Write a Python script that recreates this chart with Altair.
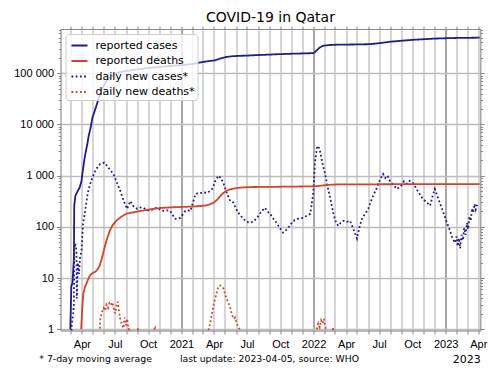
import altair as alt
import pandas as pd

# ---------------- data ----------------
cum_cases_dates = ["2020-02-29", "2020-03-03", "2020-03-06", "2020-03-10", "2020-03-11", "2020-03-14",
                   "2020-03-18", "2020-03-22", "2020-03-26", "2020-03-31", "2020-04-04", "2020-04-08",
                   "2020-04-12", "2020-04-16", "2020-04-20", "2020-04-25", "2020-04-30", "2020-05-07",
                   "2020-05-15", "2020-05-22", "2020-05-31", "2020-06-10", "2020-06-20", "2020-06-30",
                   "2020-07-15", "2020-08-01", "2020-09-01", "2020-10-01", "2020-11-01", "2020-12-01",
                   "2021-01-01", "2021-02-01", "2021-03-01", "2021-03-20", "2021-04-05", "2021-04-20",
                   "2021-05-05", "2021-05-20", "2021-06-10", "2021-07-01", "2021-08-01", "2021-09-01",
                   "2021-10-01", "2021-11-01", "2021-12-01", "2021-12-25", "2022-01-01", "2022-01-06",
                   "2022-01-12", "2022-01-18", "2022-01-25", "2022-02-01", "2022-02-15", "2022-03-01",
                   "2022-04-01", "2022-05-01", "2022-06-01", "2022-06-20", "2022-07-10", "2022-08-01",
                   "2022-09-01", "2022-10-01", "2022-11-01", "2022-12-01", "2023-01-01", "2023-02-01",
                   "2023-03-01", "2023-04-05"]
cum_cases_values = [1, 7, 8, 24, 262, 401, 460, 526, 590, 781, 1325, 2057,
                    2979, 4103, 6015, 8525, 13409, 18890, 28272, 40481, 56910, 73595, 85462, 96088,
                    105477, 111107, 119206, 126887, 133323, 139034, 144042, 152042, 166320, 174000,
                    180000, 196000, 208000, 215000, 219000, 222000, 227000, 232000, 237000, 241000,
                    244000, 247000, 250000, 262000, 290000, 318000, 338000, 348000, 357000, 361000,
                    364000, 366000, 370000, 379000, 394000, 414000, 432000, 450000, 463000, 476000,
                    484000, 490000, 493000, 496000]

cum_deaths_dates = ["2020-03-30", "2020-04-02", "2020-04-05", "2020-04-10", "2020-04-17", "2020-04-24",
                    "2020-05-01", "2020-05-08", "2020-05-15", "2020-05-21", "2020-05-26", "2020-05-31",
                    "2020-06-05", "2020-06-10", "2020-06-18", "2020-06-25", "2020-07-07", "2020-07-20",
                    "2020-08-03", "2020-08-20", "2020-09-09", "2020-10-10", "2020-11-03", "2020-12-01",
                    "2020-12-31", "2021-02-01", "2021-02-21", "2021-03-10", "2021-03-20", "2021-04-01",
                    "2021-04-10", "2021-04-17", "2021-04-25", "2021-05-05", "2021-05-15", "2021-05-25",
                    "2021-06-02", "2021-06-20", "2021-07-10", "2021-09-01", "2021-12-31", "2022-01-20",
                    "2022-02-05", "2022-02-20", "2022-03-10", "2022-05-01", "2022-09-01", "2023-01-01",
                    "2023-04-05"]
cum_deaths_values = [1, 2.5, 5, 6.8, 9, 11.5, 12.5, 13.3, 15, 18, 24, 33,
                     45, 60, 87, 108, 136, 160, 182, 192, 204, 222, 234, 240,
                     245, 250, 255, 262, 275, 300, 340, 390, 450, 505, 540, 560,
                     572, 590, 600, 605, 619, 635, 655, 668, 675, 678, 682, 685,
                     686]

daily_cases_dates = ["2020-03-01", "2020-03-04", "2020-03-08", "2020-03-10", "2020-03-11", "2020-03-14",
                     "2020-03-17", "2020-03-18", "2020-03-21", "2020-03-24", "2020-03-27", "2020-03-31",
                     "2020-04-04", "2020-04-10", "2020-04-17", "2020-04-24", "2020-05-01", "2020-05-08",
                     "2020-05-15", "2020-05-22", "2020-06-02", "2020-06-10", "2020-06-18", "2020-06-27",
                     "2020-07-06", "2020-07-16", "2020-07-25", "2020-08-04", "2020-08-13", "2020-08-22",
                     "2020-09-01", "2020-09-10", "2020-09-18", "2020-09-27", "2020-10-07", "2020-10-17",
                     "2020-10-27", "2020-11-04", "2020-11-12", "2020-11-21", "2020-12-01", "2020-12-08",
                     "2020-12-15", "2020-12-22", "2020-12-29", "2021-01-05", "2021-01-12", "2021-01-19",
                     "2021-01-26", "2021-02-02", "2021-02-09", "2021-02-16", "2021-02-23", "2021-03-05",
                     "2021-03-14", "2021-03-20", "2021-03-27", "2021-04-05", "2021-04-13", "2021-04-20",
                     "2021-04-27", "2021-05-07", "2021-05-16", "2021-05-24", "2021-06-04", "2021-06-12",
                     "2021-06-21", "2021-07-01", "2021-07-10", "2021-07-20", "2021-07-29", "2021-08-10",
                     "2021-08-20", "2021-08-27", "2021-09-03", "2021-09-10", "2021-09-17", "2021-09-30",
                     "2021-10-09", "2021-10-16", "2021-10-23", "2021-11-06", "2021-11-20", "2021-12-03",
                     "2021-12-13", "2021-12-23", "2021-12-31", "2022-01-05", "2022-01-11", "2022-01-16",
                     "2022-01-19", "2022-01-26", "2022-02-02", "2022-02-09", "2022-02-16", "2022-02-25",
                     "2022-03-03", "2022-03-10", "2022-03-17", "2022-03-24", "2022-04-03", "2022-04-12",
                     "2022-04-20", "2022-05-01", "2022-05-08", "2022-05-15", "2022-06-01", "2022-06-13",
                     "2022-06-25", "2022-07-04", "2022-07-12", "2022-07-18", "2022-07-24", "2022-07-31",
                     "2022-08-10", "2022-08-20", "2022-09-01", "2022-09-08", "2022-09-16", "2022-09-23",
                     "2022-10-03", "2022-10-16", "2022-10-30", "2022-11-10", "2022-11-19", "2022-11-26",
                     "2022-12-02", "2022-12-12", "2022-12-22", "2023-01-03", "2023-01-13", "2023-01-20",
                     "2023-01-27", "2023-01-31", "2023-02-03", "2023-02-07", "2023-02-10", "2023-02-14",
                     "2023-02-18", "2023-02-21", "2023-02-25", "2023-03-01", "2023-03-04", "2023-03-08",
                     "2023-03-11", "2023-03-15", "2023-03-18", "2023-03-22", "2023-03-25", "2023-03-29"]
daily_cases_values = [0.3, 1.2, 2.0, 3.0, 37, 48,
                      35, 4, 20, 12, 25, 34,
                      110, 205, 450, 690, 950, 1240,
                      1500, 1700, 1800, 1550, 1300, 1080,
                      750, 510, 330, 225, 320, 250,
                      225, 240, 236, 215, 205, 230,
                      236, 215, 205, 210, 205, 170,
                      144, 146, 150, 175, 205, 210,
                      205, 300, 440, 460, 460, 470,
                      460, 500, 550, 800, 1000, 900,
                      720, 450, 320, 300, 205, 170,
                      144, 125, 120, 130, 150, 200,
                      236, 200, 180, 150, 131, 95,
                      77, 85, 96, 131, 145, 150,
                      165, 180, 440, 1800, 3800, 3500,
                      3000, 1700, 1080, 600, 370, 180,
                      130, 105, 120, 131, 125, 131,
                      95, 59, 100, 144, 225, 380,
                      580, 850, 1080, 900, 1000, 790,
                      650, 550, 650, 780, 700, 790,
                      720, 500, 350, 300, 260, 400,
                      550, 350, 225, 130, 84, 60,
                      49, 65, 42, 60, 38, 70,
                      55, 95, 70, 120, 90, 160,
                      130, 230, 190, 280, 220, 270]

daily_deaths_dates = ["2020-03-28", "2020-05-18", "2020-05-22", "2020-05-27", "2020-05-31", "2020-06-04",
                      "2020-06-08", "2020-06-12", "2020-06-16", "2020-06-20", "2020-06-24", "2020-06-28",
                      "2020-07-02", "2020-07-06", "2020-07-09", "2020-07-13", "2020-07-16", "2020-07-20",
                      "2020-07-25", "2020-07-28", "2020-08-01", "2020-08-04", "2020-08-08", "2020-08-12",
                      "2020-08-16", "2020-08-25", "2020-09-03", "2020-09-08", "2020-10-20", "2020-10-24",
                      "2021-03-10", "2021-03-16", "2021-03-23", "2021-03-30", "2021-04-06", "2021-04-13",
                      "2021-04-18", "2021-04-22", "2021-04-27", "2021-05-03", "2021-05-09", "2021-05-15",
                      "2021-05-20", "2021-05-25", "2021-05-29", "2021-06-03", "2021-06-08", "2021-06-12",
                      "2021-06-20", "2022-01-05", "2022-01-10", "2022-01-14", "2022-01-18", "2022-01-22",
                      "2022-01-26", "2022-01-30", "2022-02-03", "2022-02-07", "2022-02-20", "2022-02-24",
                      "2022-02-28", "2023-04-05"]
daily_deaths_values = [0.3, 0.5, 1.6, 2.2, 2.6, 2.3,
                       3.0, 2.6, 3.2, 2.9, 3.35, 2.6,
                       2.05, 3.0, 3.45, 2.2, 1.6, 1.3,
                       1.05, 1.7, 1.2, 1.6, 1.0, 1.05,
                       0.6, 0.4, 1.05, 0.4, 1.05, 0.4,
                       0.4, 0.9, 1.5, 2.8, 4.5, 6.8,
                       7.2, 6.6, 6.3, 4.5, 3.5, 2.8,
                       2.0, 1.6, 1.7, 1.3, 1.1, 0.95,
                       0.5, 0.5, 1.0, 1.3, 1.1, 1.5,
                       1.3, 1.6, 1.1, 0.6, 0.6, 1.1,
                       0.5, 0.3]

series_names = ["reported cases", "reported deaths", "daily new cases*", "daily new deaths*"]
series_colors = ["#1f1d8a", "#d5412c", "#1f1d8a", "#d5412c"]
series_dashes = [[1, 0], [1, 0], [1.8, 2.4], [1.8, 2.4]]

x_tick_dates = [(y, m) for y in (2020, 2021, 2022, 2023) for m in range(1, 13)
                if (2020, 3) <= (y, m) <= (2023, 4)]
y_ticks = [m * 10 ** e for e in range(6) for m in range(1, 10) if m * 10 ** e <= 700000]

title_text = "COVID-19 in Qatar"
note_left = "* 7-day moving average"
note_right = "last update: 2023-04-05, source: WHO"
year_note = "2023"

# ---------------- frames ----------------
def frame(dates, values, name):
    return pd.DataFrame({"date": dates, "value": values, "series": name})

df_cum = pd.concat([frame(cum_cases_dates, cum_cases_values, series_names[0]),
                    frame(cum_deaths_dates, cum_deaths_values, series_names[1])])
df_daily = pd.concat([frame(daily_cases_dates, daily_cases_values, series_names[2]),
                      frame(daily_deaths_dates, daily_deaths_values, series_names[3])])

FONT = "DejaVu Sans"
W, H = 419.8, 301.5

x_scale = alt.Scale(type="utc",
                    domain=[alt.DateTime(year=2020, month=2, date=2, utc=True),
                            alt.DateTime(year=2023, month=4, date=6, hours=16, utc=True)],
                    nice=False)
y_scale = alt.Scale(type="log", domain=[0.947, 733000], nice=False)

x_vals = [alt.DateTime(year=y, month=m, date=1, utc=True) for (y, m) in x_tick_dates]
is_jan = "utcmonth(datum.value) == 0"
is_major = "indexof([1,10,100,1000,10000,100000], datum.value) >= 0"

x_axis_bottom = alt.Axis(
    values=x_vals, title=None, orient="bottom",
    labelExpr=("utcmonth(datum.value) == 0 ? utcFormat(datum.value, '%Y') : "
               "(utcmonth(datum.value) % 3 == 0 ? utcFormat(datum.value, '%b') : '')"),
    labelOverlap=False, labelPadding=4.5, labelFontSize=11,
    tickSize=3.5, grid=True,
    gridColor={"condition": {"test": is_jan, "value": "#a8a8a8"}, "value": "#c8c8c8"},
    gridWidth={"condition": {"test": is_jan, "value": 2.0}, "value": 1.5},
)
x_axis_top = alt.Axis(values=x_vals, title=None, orient="top", labels=False, grid=False,
                      tickSize=3)

y_axis_left = alt.Axis(
    values=y_ticks, title=None, orient="left",
    labelExpr=f"{is_major} ? replace(format(datum.value, ','), ',', ' ') : ''",
    labelOverlap=False, labelPadding=3, labelFontSize=11,
    tickSize={"condition": {"test": is_major, "value": 4}, "value": 2.2},
    grid=True, gridColor="#bdbdbd", gridWidth=1.5,
    gridOpacity={"condition": {"test": is_major, "value": 1}, "value": 0},
)
y_axis_right = alt.Axis(
    values=y_ticks, title=None, orient="right", labels=False, grid=False,
    tickSize={"condition": {"test": is_major, "value": 4}, "value": 2.2},
)

legend = alt.Legend(
    title=None, orient="top-left", offset=4.5, symbolType="stroke", symbolSize=256,
    symbolStrokeWidth=2, symbolOffset=2.5, labelFont=FONT, labelFontSize=11, labelColor="black",
    labelOffset=7, fillColor="rgba(255,255,255,0.8)", strokeColor="#cccccc",
    cornerRadius=3, padding=2.5, rowPadding=1.5,
)

color_enc = alt.Color("series:N", scale=alt.Scale(domain=series_names, range=series_colors),
                      legend=legend)
dash_enc = alt.StrokeDash("series:N", scale=alt.Scale(domain=series_names, range=series_dashes),
                          legend=legend)

cum_layer = alt.Chart(df_cum).mark_line(clip=True, strokeWidth=1.8).encode(
    x=alt.X("date:T", scale=x_scale, axis=x_axis_bottom),
    y=alt.Y("value:Q", scale=y_scale, axis=y_axis_left),
    color=color_enc, strokeDash=dash_enc,
)
daily_layer = alt.Chart(df_daily).mark_line(clip=True, strokeWidth=1.8).encode(
    x=alt.X("date:T", scale=x_scale, axis=x_axis_top),
    y=alt.Y("value:Q", scale=y_scale, axis=y_axis_right),
    color=color_enc, strokeDash=dash_enc,
)

def note(text, x, y, align):
    return alt.Chart(pd.DataFrame({"t": [text]})).mark_text(
        align=align, baseline="alphabetic", font=FONT, fontSize=9.3, color="black"
    ).encode(text="t:N", x=alt.value(x), y=alt.value(y))

note1 = note(note_left, -21.2, 333, "left")
note2 = note(note_right, 119.5, 333, "left")
year_lbl = alt.Chart(pd.DataFrame({"t": [year_note]})).mark_text(
    align="right", baseline="alphabetic", font=FONT, fontSize=11, color="black"
).encode(text="t:N", x=alt.value(W + 0.5), y=alt.value(334))

chart = alt.layer(daily_layer, cum_layer, note1, note2, year_lbl).properties(
    width=W, height=H,
    title=alt.TitleParams(title_text, font=FONT, fontSize=14, fontWeight="normal",
                          color="black", anchor="middle", offset=-1),
    autosize=alt.AutoSizeParams(type="none"),
    padding={"left": 60.5, "top": 29, "right": 19.7, "bottom": 44.5},
).configure_view(stroke=None).configure_axis(
    domainColor="black", domainWidth=1, tickColor="black", tickWidth=1,
    labelFont=FONT, labelColor="black",
).configure(background="white")

chart.save("out.html", embed_options={"renderer": "svg", "actions": False})
